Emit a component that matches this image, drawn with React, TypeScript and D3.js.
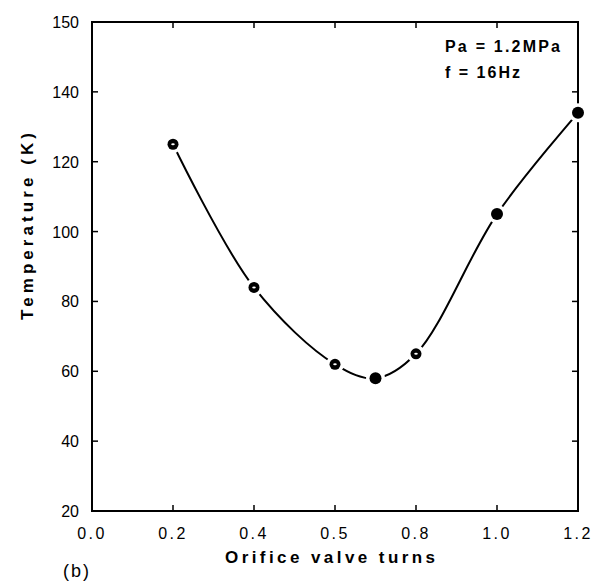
import React from "react";
import * as d3 from "d3";

const xValues = [0.2, 0.4, 0.6, 0.7, 0.8, 1.0, 1.2];
const tempValues = [125, 84, 62, 58, 65, 105, 134];
const markerFilled = [false, false, false, true, false, true, true];
const xTickValues = [0, 0.2, 0.4, 0.6, 0.8, 1.0, 1.2];
const xTickLabels = ["0.0", "0.2", "0.4", "0.5", "0.8", "1.0", "1.2"];
const yTickValues = [20, 40, 60, 80, 100, 120, 140, 160];
const yTickLabels = ["20", "40", "60", "80", "100", "120", "140", "150"];
const legendLines = ["Pa = 1.2MPa", "f = 16Hz"];
const legendWidths = [115, 75];
const xTitle = "Orifice valve turns";
const yTitle = "Temperature (K)";
const panelLabel = "(b)";

const W = 595;
const H = 581;
const M = { left: 92, right: 578, top: 22, bottom: 511 };

export default function App() {
  const x = d3.scaleLinear().domain([0, 1.2]).range([M.left, M.right]);
  const y = d3.scaleLinear().domain([20, 160]).range([M.bottom, M.top]);
  const pts = xValues.map((v, i) => [x(v), y(tempValues[i])] as [number, number]);
  const line = d3.line().curve(d3.curveCatmullRom.alpha(0.5))(pts) || "";
  const font = "'Liberation Sans', Arial, sans-serif";
  const tickLen = 6;
  return (
    <svg width={W} height={H} style={{ position: "absolute", left: 0, top: 0, background: "#fff" }} fontFamily={font}>
      <rect x={0} y={0} width={W} height={H} fill="#fff" />
      <rect x={M.left} y={M.top} width={M.right - M.left} height={M.bottom - M.top} fill="none" stroke="#000" strokeWidth={2} />
      {xTickValues.map((v, i) => (
        <g key={"xt" + i}>
          {i > 0 && i < xTickValues.length - 1 && (
            <>
              <line x1={x(v)} x2={x(v)} y1={M.bottom} y2={M.bottom - tickLen} stroke="#000" strokeWidth={1.5} />
              <line x1={x(v)} x2={x(v)} y1={M.top} y2={M.top + tickLen} stroke="#000" strokeWidth={1.5} />
            </>
          )}
          <text x={x(v)} y={539} textAnchor="middle" fontSize={16} letterSpacing={2.5} fill="#000">
            {xTickLabels[i]}
          </text>
        </g>
      ))}
      {yTickValues.map((v, i) => (
        <g key={"yt" + i}>
          {i > 0 && i < yTickValues.length - 1 && (
            <>
              <line x1={M.left} x2={M.left + tickLen} y1={y(v)} y2={y(v)} stroke="#000" strokeWidth={1.5} />
              <line x1={M.right} x2={M.right - tickLen} y1={y(v)} y2={y(v)} stroke="#000" strokeWidth={1.5} />
            </>
          )}
          <text x={79} y={y(v) + 6} textAnchor="end" fontSize={16} fill="#000">
            {yTickLabels[i]}
          </text>
        </g>
      ))}
      <path d={line} fill="none" stroke="#000" strokeWidth={2} />
      {pts.map((p, i) => (
        <g key={"m" + i}>
          <circle cx={p[0]} cy={p[1]} r={markerFilled[i] ? 6 : 5.5} fill="#000" stroke="#fff" strokeWidth={7} paintOrder="stroke" />
          {!markerFilled[i] && <ellipse cx={p[0]} cy={p[1]} rx={1.8} ry={1} fill="#fff" />}
        </g>
      ))}
      {legendLines.map((t, i) => (
        <text key={"lg" + i} x={445} y={52 + i * 26} fontSize={16} fontWeight="bold" fill="#000"
          textLength={legendWidths[i]} lengthAdjust="spacing">
          {t}
        </text>
      ))}
      <text x={225} y={563} fontSize={17} fontWeight="bold" fill="#000" textLength={210} lengthAdjust="spacing">
        {xTitle}
      </text>
      <text transform={`translate(33,320) rotate(-90)`} fontSize={17} fontWeight="bold" fill="#000" textLength={187} lengthAdjust="spacing">
        {yTitle}
      </text>
      <text x={63} y={577} fontSize={18} letterSpacing={2} fill="#000">
        {panelLabel}
      </text>
    </svg>
  );
}
